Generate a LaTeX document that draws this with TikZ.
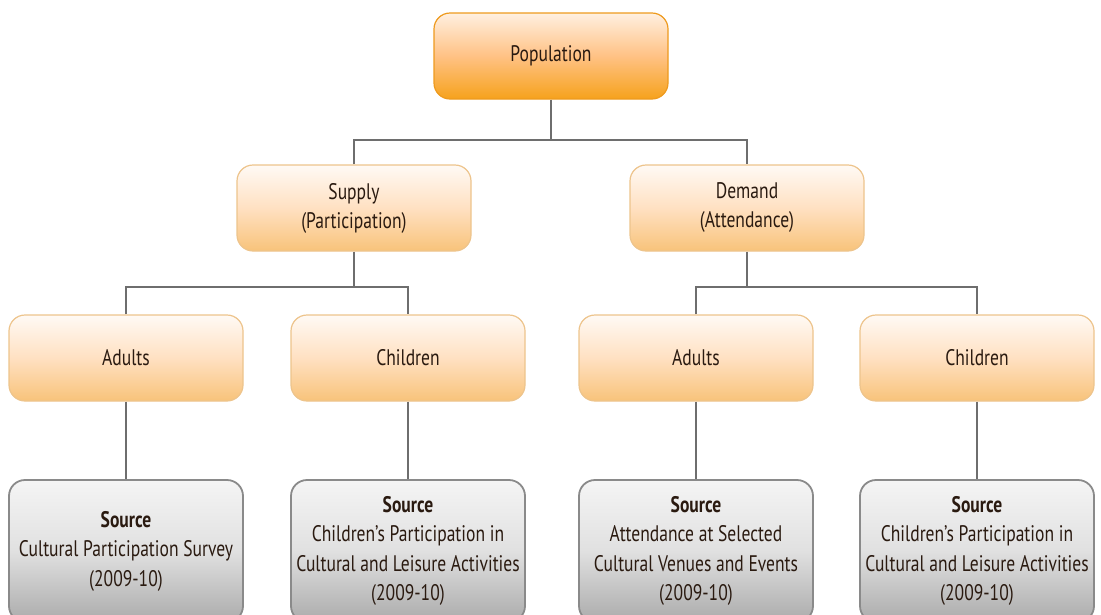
\documentclass[tikz,border=0pt]{standalone}
\usepackage{fontspec}
\setmainfont[FakeStretch=0.78]{PT Sans}
\usepackage{xcolor}
\usetikzlibrary{positioning,calc}

\definecolor{popborder}{HTML}{EE9A1E}
\definecolor{poplow}{HTML}{F6A21C}
\definecolor{peachborder}{HTML}{EDC48C}
\definecolor{peachlow}{HTML}{F8C37A}
\definecolor{srcborder}{HTML}{8A8A8A}
\definecolor{srclow}{HTML}{ABABAB}
\definecolor{linkgray}{HTML}{6E6E6E}
\definecolor{boxtext}{HTML}{2A1A10}

\begin{document}
\begin{tikzpicture}[
    x=1pt, y=-1pt,
    box/.style={rectangle, rounded corners=16pt, minimum width=234pt, minimum height=86pt,
                align=center, text=boxtext, font=\fontsize{22.5}{29}\selectfont, line width=1.2pt},
    topbox/.style={box, draw=popborder, top color=orange!12!white, bottom color=poplow, middle color=orange!48!white},
    midbox/.style={box, draw=peachborder, top color=orange!4!white, bottom color=peachlow, middle color=orange!24!white},
    srcbox/.style={box, minimum height=142pt, draw=srcborder, line width=1.8pt,
                   top color=gray!8!white, bottom color=srclow, middle color=gray!24!white,
                   font=\fontsize{22.5}{29.5}\selectfont},
    link/.style={draw=linkgray, line width=2pt}
]
    \clip (0,0) rectangle (1101,614);
    \useasboundingbox (0,0) rectangle (1101,614);

    % Top level
    \node[topbox] (pop) at (551,56) {Population};

    % Supply / demand
    \node[midbox] (supply) at (354,208) {Supply\\(Participation)};
    \node[midbox] (demand) at (747,208) {Demand\\(Attendance)};

    % Adults / children
    \node[midbox] (adsup) at (126,358) {Adults};
    \node[midbox] (chsup) at (408,358) {Children};
    \node[midbox] (addem) at (696,358) {Adults};
    \node[midbox] (chdem) at (977,358) {Children};

    % Sources
    \node[srcbox] (srcadsup) at (126,551) {\textbf{Source}\\Cultural Participation Survey\\(2009-10)};
    \node[srcbox] (srcchsup) at (408,551) {\textbf{Source}\\Children's Participation in\\Cultural and Leisure Activities\\(2009-10)};
    \node[srcbox] (srcaddem) at (696,551) {\textbf{Source}\\Attendance at Selected\\Cultural Venues and Events\\(2009-10)};
    \node[srcbox] (srcchdem) at (977,551) {\textbf{Source}\\Children's Participation in\\Cultural and Leisure Activities\\(2009-10)};

    % Connectors
    \coordinate (jpop) at (551,140);
    \coordinate (jsup) at (354,287);
    \coordinate (jdem) at (747,287);
    \draw[link] (pop) -- (jpop);
    \draw[link] (supply.north) |- (jpop) -| (demand.north);
    \draw[link] (supply) -- (jsup);
    \draw[link] (adsup.north) |- (jsup) -| (chsup.north);
    \draw[link] (demand) -- (jdem);
    \draw[link] (addem.north) |- (jdem) -| (chdem.north);
    \draw[link] (adsup) -- (srcadsup);
    \draw[link] (chsup) -- (srcchsup);
    \draw[link] (addem) -- (srcaddem);
    \draw[link] (chdem) -- (srcchdem);
\end{tikzpicture}
\end{document}
